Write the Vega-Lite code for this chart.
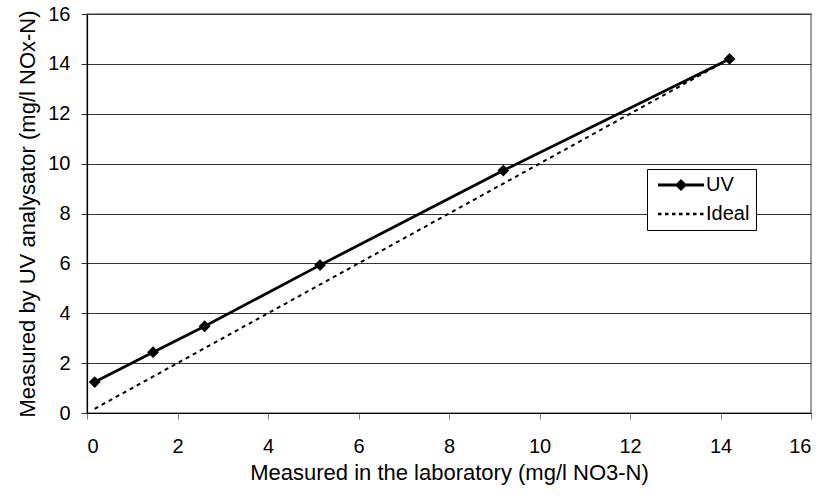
{
  "$schema": "https://vega.github.io/schema/vega-lite/v6.json",
  "width": 724,
  "height": 399,
  "autosize": {"type": "none"},
  "padding": {"left": 87, "top": 14, "right": 18, "bottom": 88},
  "background": "white",
  "config": {
    "font": "Liberation Sans",
    "view": {"stroke": "#808080", "strokeWidth": 1.5},
    "axis": {
      "labelFont": "Liberation Sans",
      "titleFont": "Liberation Sans",
      "labelFontSize": 20,
      "titleFontSize": 22,
      "titleFontWeight": "normal",
      "labelColor": "black",
      "titleColor": "black",
      "domainColor": "black",
      "domainWidth": 1.2,
      "tickColor": "#808080",
      "tickSize": 6
    }
  },
  "data": {
    "values": [
      {"lab": 0.17, "uv": 1.24, "series": "UV"},
      {"lab": 1.46, "uv": 2.44, "series": "UV"},
      {"lab": 2.6, "uv": 3.48, "series": "UV"},
      {"lab": 5.15, "uv": 5.93, "series": "UV"},
      {"lab": 9.2, "uv": 9.72, "series": "UV"},
      {"lab": 14.2, "uv": 14.2, "series": "UV"},
      {"lab": 0.17, "uv": 0.17, "series": "Ideal"},
      {"lab": 14.2, "uv": 14.2, "series": "Ideal"}
    ]
  },
  "layer": [
    {
      "transform": [{"filter": "datum.series === 'Ideal'"}],
      "mark": {"type": "line", "color": "black", "strokeWidth": 2, "strokeDash": [4, 4]},
      "encoding": {
        "x": {
          "field": "lab", "type": "quantitative",
          "scale": {"domain": [0, 16], "nice": false},
          "axis": {
            "values": [0, 2, 4, 6, 8, 10, 12, 14, 16],
            "grid": false,
            "labelPadding": 17,
            "titlePadding": 6,
            "title": "Measured in the laboratory (mg/l NO3-N)"
          }
        },
        "y": {
          "field": "uv", "type": "quantitative",
          "scale": {"domain": [0, 16], "nice": false},
          "axis": {
            "values": [0, 2, 4, 6, 8, 10, 12, 14, 16],
            "grid": true,
            "gridColor": "#333333",
            "gridWidth": 1,
            "tickColor": "#333333",
            "labelPadding": 11,
            "titlePadding": 8,
            "title": "Measured by UV analysator (mg/l NOx-N)"
          }
        }
      }
    },
    {
      "transform": [{"filter": "datum.series === 'UV'"}],
      "mark": {"type": "line", "color": "black", "strokeWidth": 2.8},
      "encoding": {
        "x": {"field": "lab", "type": "quantitative"},
        "y": {"field": "uv", "type": "quantitative"}
      }
    },
    {
      "transform": [{"filter": "datum.series === 'UV'"}],
      "mark": {"type": "point", "shape": "diamond", "filled": true, "color": "black", "size": 140, "opacity": 1},
      "encoding": {
        "x": {"field": "lab", "type": "quantitative"},
        "y": {"field": "uv", "type": "quantitative"}
      }
    },
    {
      "mark": {"type": "point", "filled": true, "color": "black", "opacity": 1, "size": 0},
      "encoding": {
        "x": {"field": "lab", "type": "quantitative"},
        "y": {"field": "uv", "type": "quantitative"},
        "shape": {
          "field": "series", "type": "nominal",
          "scale": {
            "domain": ["UV", "Ideal"],
            "range": [
              "M-1,-0.28L8.2,-0.28L8.2,0.28L-1,0.28ZM3.6,-1.2L4.8,0L3.6,1.2L2.4,0Z",
              "M-1,-0.25L-0.3,-0.25L-0.3,0.25L-1,0.25ZM0.4,-0.25L1.1,-0.25L1.1,0.25L0.4,0.25ZM1.8,-0.25L2.5,-0.25L2.5,0.25L1.8,0.25ZM3.2,-0.25L3.9,-0.25L3.9,0.25L3.2,0.25ZM4.6,-0.25L5.3,-0.25L5.3,0.25L4.6,0.25ZM6,-0.25L6.7,-0.25L6.7,0.25L6,0.25ZM7.4,-0.25L8.1,-0.25L8.1,0.25L7.4,0.25Z"
            ]
          },
          "legend": {
            "title": null,
            "orient": "none",
            "legendX": 560,
            "legendY": 155,
            "fillColor": "white",
            "strokeColor": "black",
            "padding": 6,
            "labelFont": "Liberation Sans",
            "labelFontSize": 20,
            "labelColor": "black",
            "labelOffset": 33,
            "symbolSize": 100,
            "symbolOpacity": 1,
            "symbolFillColor": "black",
            "rowPadding": 9
          }
        }
      }
    }
  ]
}
